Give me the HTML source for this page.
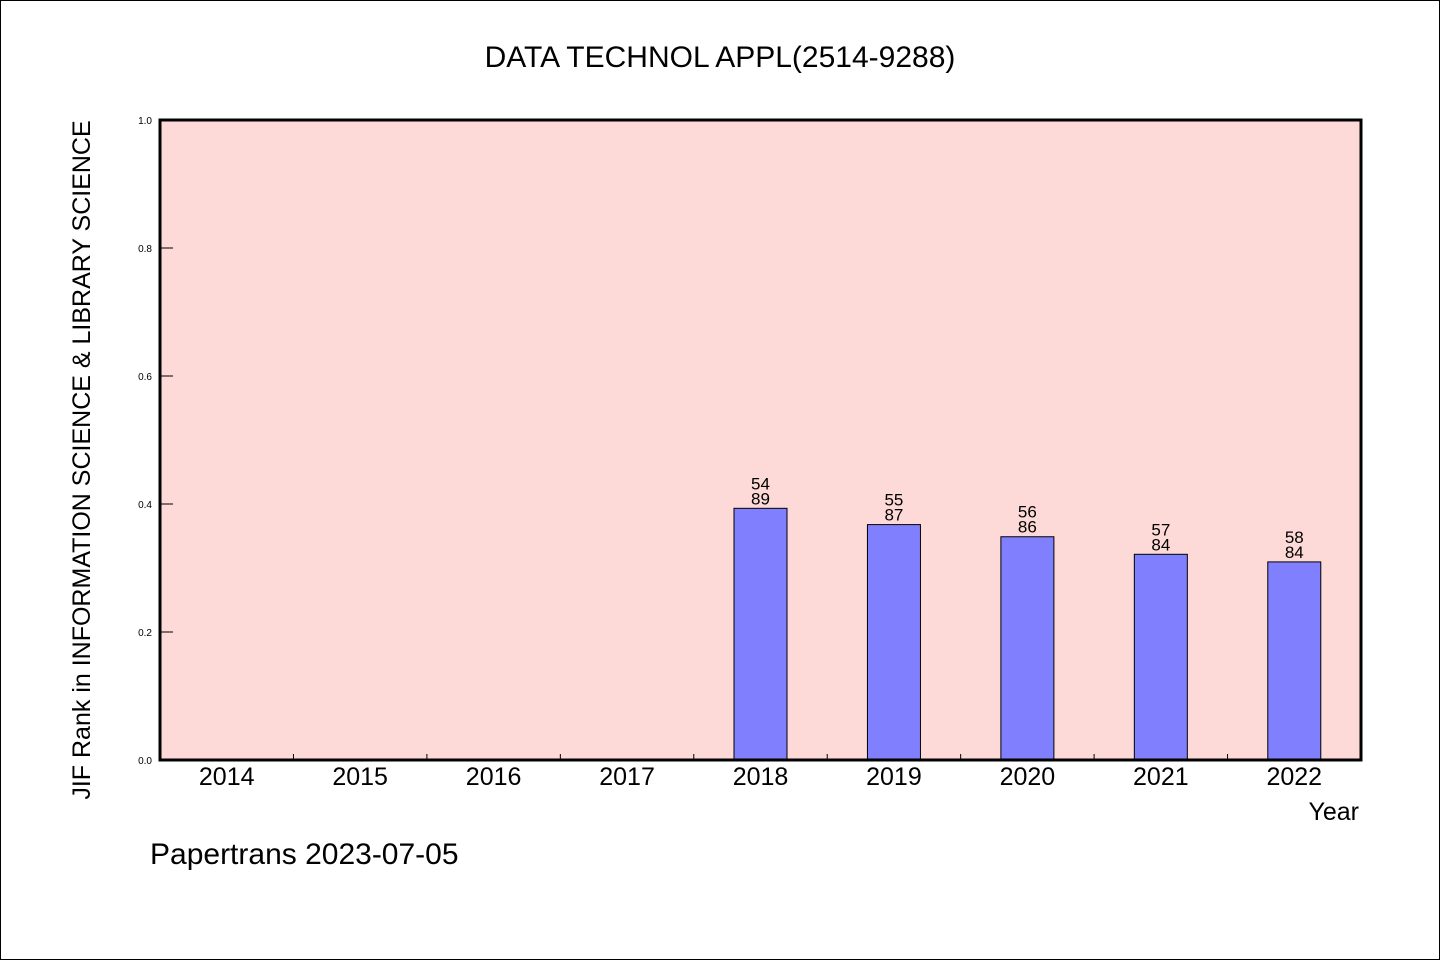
<!DOCTYPE html>
<html><head><meta charset="utf-8"><style>
html,body{margin:0;padding:0;background:#fff}
svg{display:block;font-family:"WenQuanYi Zen Hei","Liberation Sans",sans-serif}
</style></head><body>
<svg id="chart" width="1440" height="960" viewBox="0 0 1440 960">
<rect x="0.5" y="0.5" width="1439" height="959" fill="#fff" stroke="#000"/>
<text x="720" y="67" text-anchor="middle" font-size="30">DATA TECHNOL APPL(2514-9288)</text>
<rect x="160" y="120" width="1201" height="640" fill="#fddad7"/>
<g id="bars"></g>
<g id="axes"></g>
<rect x="160" y="120" width="1201" height="640" fill="none" stroke="#000" stroke-width="3"/>
<text transform="translate(90,460) rotate(-90)" text-anchor="middle" font-size="25">JIF Rank in INFORMATION SCIENCE &amp; LIBRARY SCIENCE</text>
<text x="1359" y="820" text-anchor="end" font-size="25">Year</text>
<text x="150" y="864" font-size="30">Papertrans 2023-07-05</text>
</svg>
<script>
const categories = ["2014","2015","2016","2017","2018","2019","2020","2021","2022"];
const ranks = [null,null,null,null,54,55,56,57,58];
const totals = [null,null,null,null,89,87,86,84,84];
const yTicks = [0.0,0.2,0.4,0.6,0.8,1.0];
const NS = "http://www.w3.org/2000/svg";
const x0 = 160, x1 = 1361, y0 = 760, y1 = 120;
const band = (x1 - x0) / categories.length;
const xPos = i => x0 + band * (i + 0.5);
const yPos = v => y0 - (y0 - y1) * v;
function mk(tag, attrs, parent, text) {
  const e = document.createElementNS(NS, tag);
  for (const k in attrs) e.setAttribute(k, attrs[k]);
  if (text !== undefined) e.textContent = text;
  parent.appendChild(e);
  return e;
}
const bars = document.getElementById("bars");
const axes = document.getElementById("axes");
categories.forEach((c, i) => {
  const lab = mk("text", {x: xPos(i), y: 785, "text-anchor": "middle", "font-size": 25}, axes, c);
  
  
  if (i > 0) {
    const t = mk("line", {x1: x0 + band * i, x2: x0 + band * i, y1: y0, y2: y0 - 6, stroke: "#000", "stroke-width": 1}, axes);
    
    
  }
  if (ranks[i] == null) return;
  const v = 1 - ranks[i] / totals[i];
  const r = mk("rect", {x: xPos(i) - 26.5, y: yPos(v), width: 53, height: y0 - yPos(v), fill: "#8080ff", stroke: "#000", "stroke-width": 1}, bars);
  
  
  const t1 = mk("text", {x: xPos(i), y: yPos(v) - 19, "text-anchor": "middle", "font-size": 17}, bars, String(ranks[i]));
  
  
  const t2 = mk("text", {x: xPos(i), y: yPos(v) - 4, "text-anchor": "middle", "font-size": 17}, bars, String(totals[i]));
  
  
});
yTicks.forEach(v => {
  const l = mk("line", {x1: x0, x2: x0 + 13, y1: yPos(v), y2: yPos(v), stroke: "#000", "stroke-width": 1}, axes);
  
  
  const t = mk("text", {x: 152, y: yPos(v) + 4, "text-anchor": "end", "font-size": 10}, axes, v.toFixed(1));
  
  
});
</script>
</body></html>
